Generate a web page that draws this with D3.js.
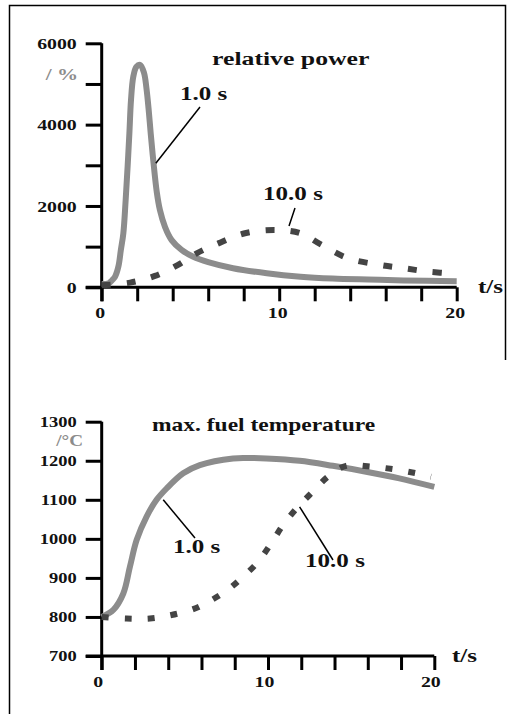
<!DOCTYPE html>
<html>
<head>
<meta charset="utf-8">
<script src="https://cdn.jsdelivr.net/npm/d3@7"></script>
<style>
  body { margin: 0; background: #fff; }
  svg { display: block; }
  text { font-family: "Liberation Serif", "Times New Roman", serif; font-weight: bold; fill: #111; }
</style>
</head>
<body>
<div id="chart"></div>
<script>
// relative power (%), two reactivity ramp times
const powerTime1 = [0, 0.4, 0.6, 0.75, 0.94, 1.08, 1.22, 1.35, 1.46, 1.56, 1.65, 1.78, 1.95, 2.16, 2.38, 2.52, 2.66, 2.76, 2.91, 3.1, 3.28, 3.57, 3.94, 4.5, 5.16, 6, 7.4, 9.3, 11.2, 13, 15, 17, 20];
const powerValue1 = [80, 100, 180, 260, 510, 920, 1330, 2150, 2970, 3790, 4600, 5180, 5420, 5470, 5280, 4900, 4300, 3790, 3100, 2350, 1900, 1480, 1160, 920, 750, 620, 470, 345, 260, 215, 190, 170, 150];
const powerTime10 = [0, 1.6, 3.0, 4.3, 5.35, 6.57, 8.07, 9.77, 11.2, 12.4, 13.9, 15.7, 17.0, 18.4, 20];
const powerValue10 = [50, 115, 280, 550, 835, 1080, 1330, 1410, 1330, 1040, 710, 550, 470, 385, 330];

// max. fuel temperature (°C)
const tempTime1 = [0, 0.7, 1.3, 1.7, 2.1, 2.7, 3.3, 3.9, 4.9, 5.9, 7.9, 8.9, 9.9, 11.9, 13.9, 15.9, 17.9, 20];
const tempValue1 = [800, 818, 860, 929, 997, 1057, 1100, 1129, 1168, 1189, 1206, 1207, 1206, 1200, 1187, 1172, 1155, 1133];
const tempTime10 = [0, 1.5, 2.9, 4.2, 5.5, 6.3, 7.5, 8.5, 9.4, 10.2, 10.9, 11.8, 12.7, 13.6, 14.7, 16.2, 17.6, 18.9, 19.8];
const tempValue10 = [800, 796, 796, 805, 820, 836, 867, 903, 941, 989, 1035, 1082, 1121, 1159, 1187, 1185, 1178, 1168, 1159];

const xTicks = [0, 2, 4, 6, 8, 10, 12, 14, 16, 18, 20];
const xTickLabels = [0, 10, 20];
const powerTicks = [0, 1000, 2000, 3000, 4000, 5000, 6000];
const powerTickLabels = [0, 2000, 4000, 6000];
const tempTicks = [700, 800, 900, 1000, 1100, 1200, 1300];

const W = 507, H = 714;
const gray = "#8c8c8c", dark = "#444";
const sx = 1.32; // glyphs in the picture are stretched sideways

const svg = d3.select("#chart").append("svg")
    .attr("width", W)
    .attr("height", H);

// frame
svg.append("path")
    .attr("d", "M9.5,714 V5.5 H505.5 V360")
    .attr("fill", "none")
    .attr("stroke", "#000")
    .attr("stroke-width", 1.5);

function label(g, x, y, txt, size, anchor, color, scale) {
    return g.append("text")
        .attr("transform", `translate(${x},${y}) scale(${scale || sx},1)`)
        .attr("text-anchor", anchor || "start")
        .style("font-size", size + "px")
        .style("fill", color || "#111")
        .text(txt);
}

function zip(ts, vs) { return ts.map((t, i) => [t, vs[i]]); }

function panel(cfg) {
    const g = svg.append("g");
    const x = d3.scaleLinear().domain([0, 20]).range([cfg.left, cfg.right]);
    const y = d3.scaleLinear().domain(cfg.yDomain).range([cfg.bottom, cfg.top]);

    // axes
    const yAxis = g.append("g")
        .attr("transform", `translate(${cfg.left},0)`)
        .call(d3.axisLeft(y).tickValues(cfg.yTicks).tickSize(16).tickSizeOuter(0)
            .tickFormat(d => cfg.yLabels.includes(d) ? d : ""));
    const xAxis = g.append("g")
        .attr("transform", `translate(0,${cfg.bottom})`)
        .call(d3.axisBottom(x).tickValues(xTicks).tickSize(14).tickSizeOuter(0)
            .tickFormat(d => xTickLabels.includes(d) ? d : ""));

    [yAxis, xAxis].forEach(a => {
        a.selectAll("path, line").attr("stroke", "#000").attr("stroke-width", 3);
        a.selectAll("text").attr("fill", "#111")
            .style("font-family", '"Liberation Serif", serif')
            .style("font-weight", "bold");
    });
    yAxis.select(".domain").attr("d", `M0,${cfg.bottom + 14}V${cfg.top}`);
    xAxis.select(".domain").attr("d", `M${cfg.left - 16},0H${cfg.right}`);

    yAxis.selectAll("text")
        .attr("x", null).attr("dy", "0.34em")
        .attr("transform", `translate(-25,0) scale(${sx},1)`)
        .style("font-size", cfg.yFont + "px");
    xAxis.selectAll("text")
        .attr("y", null).attr("dy", null)
        .attr("transform", `translate(${cfg.xLabelShift},31) scale(${sx},1)`)
        .style("font-size", "15px");

    const line = d3.line()
        .x(d => x(d[0]))
        .y(d => y(d[1]))
        .curve(d3.curveCatmullRom.alpha(0.5));

    g.append("path")
        .datum(cfg.solid)
        .attr("d", line)
        .attr("fill", "none")
        .attr("stroke", gray)
        .attr("stroke-width", 6)
        .attr("stroke-linejoin", "round");

    g.append("path")
        .datum(cfg.dotted)
        .attr("d", line)
        .attr("fill", "none")
        .attr("stroke", dark)
        .attr("stroke-width", 6)
        .attr("stroke-dasharray", cfg.dash);

    return { g, x, y };
}

// upper panel: relative power
const powerPanel = panel({
    left: 101.7, right: 456.7, top: 43.3, bottom: 287.3,
    yDomain: [0, 6000], yTicks: powerTicks, yLabels: powerTickLabels, yFont: 15,
    xLabelShift: -2,
    solid: zip(powerTime1, powerValue1),
    dotted: zip(powerTime10, powerValue10),
    dash: "9,16"
});
label(powerPanel.g, 212, 65, "relative power", 19.5, "start");
label(powerPanel.g, 78, 80, "/ %", 16, "end", gray);
label(powerPanel.g, 180, 100, "1.0 s", 19, "start");
label(powerPanel.g, 263, 200, "10.0 s", 19, "start");
label(powerPanel.g, 478, 293, "t/s", 19, "start");
powerPanel.g.append("line")
    .attr("x1", 200).attr("y1", 107)
    .attr("x2", powerPanel.x(3.05)).attr("y2", powerPanel.y(3050))
    .attr("stroke", "#000").attr("stroke-width", 1.5);
powerPanel.g.append("line")
    .attr("x1", 295).attr("y1", 208).attr("x2", 289).attr("y2", 226)
    .attr("stroke", "#000").attr("stroke-width", 1.5);

// lower panel: max. fuel temperature
const tempPanel = panel({
    left: 101.7, right: 434.3, top: 421.7, bottom: 656,
    yDomain: [700, 1300], yTicks: tempTicks, yLabels: tempTicks, yFont: 14,
    xLabelShift: -4,
    solid: zip(tempTime1, tempValue1),
    dotted: zip(tempTime10, tempValue10),
    dash: "7,16"
});
label(tempPanel.g, 152, 431, "max. fuel temperature", 18.5, "start", null, 1.27);
label(tempPanel.g, 83, 446, "/°C", 16, "end", gray, 1.2);
label(tempPanel.g, 173, 553, "1.0 s", 19, "start");
label(tempPanel.g, 305, 567, "10.0 s", 19, "start");
label(tempPanel.g, 452, 662, "t/s", 19, "start");
tempPanel.g.append("line")
    .attr("x1", 195).attr("y1", 538)
    .attr("x2", tempPanel.x(3.7)).attr("y2", tempPanel.y(1100))
    .attr("stroke", "#000").attr("stroke-width", 1.5);
tempPanel.g.append("line")
    .attr("x1", 333).attr("y1", 560)
    .attr("x2", tempPanel.x(11.9)).attr("y2", tempPanel.y(1082))
    .attr("stroke", "#000").attr("stroke-width", 1.5);
</script>
</body>
</html>
